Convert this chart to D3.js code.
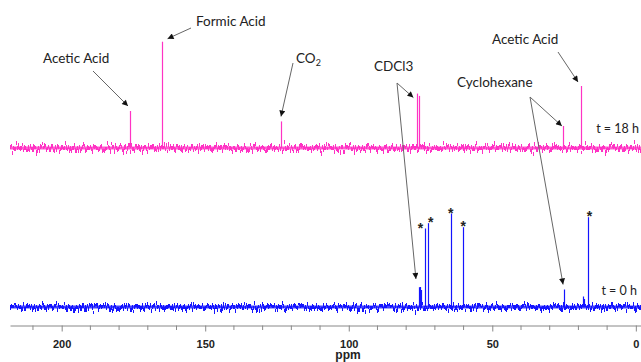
<!DOCTYPE html>
<meta charset="utf-8">
<head>
<style>
  body { margin: 0; background: #fff; }
  .lbl { font-family: Lato, "Open Sans", sans-serif; font-size: 13.5px; fill: #222; }
  .tl { font-family: Lato, "Open Sans", sans-serif; font-size: 12.5px; fill: #222; }
  .star { font-family: "Liberation Sans", Arial, sans-serif; font-size: 14px; font-weight: bold; fill: #222; }
  .axis text { font-family: "Liberation Sans", Arial, sans-serif; font-size: 11px; font-weight: bold; fill: #222; }
  .axis path, .axis line { stroke: #888; }
  .ppm { font-family: "Liberation Sans", Arial, sans-serif; font-size: 12px; font-weight: bold; fill: #222; }
</style>
<script src="https://d3js.org/d3.v7.min.js"></script>
</head>
<body>
<svg width="641" height="362"></svg>
<script>
// tick labels of the ppm axis
var majorTicks = [200, 150, 100, 50, 0];
var minorTicks = [210, 190, 180, 170, 160, 140, 130, 120, 110, 90, 80, 70, 60, 40, 30, 20, 10];

// t = 18 h spectrum (pink): peak shifts and relative heights
var topPpm    = [176.2, 165.2, 123.6, 76.1, 75.7, 25.4, 19.1];
var topHeight = [34.8, 100, 25, 51.2, 49, 20.7, 58.3];

// t = 0 h spectrum (blue)
var botPpm    = [75.6, 75.2, 74.8, 73.3, 72.5, 64.5, 60.3, 25.0, 18.5, 17.9, 16.7];
var botHeight = [19.8, 20, 17, 78.5, 83.8, 93.5, 79.8, 17.5, 10.5, 8, 89.8];

// peaks marked with *
var starPpm = [73.3, 72.5, 64.5, 60.3, 16.7];
var starDx  = [-5, 3, 0, 0.5, 1.5];

var svg = d3.select("svg");

var x = d3.scaleLinear().domain([218, -1.8]).range([10, 641]);
var yTop = d3.scaleLinear().domain([0, 100]).range([148, 41.7]);
var yBot = d3.scaleLinear().domain([0, 100]).range([307, 207]);

// noise look for the baselines
var defs = svg.append("defs");
var f = defs.append("filter").attr("id", "jitter")
    .attr("filterUnits", "userSpaceOnUse")
    .attr("x", 0).attr("y", 0).attr("width", 641).attr("height", 362);
f.append("feTurbulence").attr("type", "fractalNoise")
    .attr("baseFrequency", "0.9 0.03").attr("numOctaves", 2).attr("seed", 4).attr("result", "n");
f.append("feColorMatrix").attr("in", "n").attr("type", "matrix")
    .attr("values", "0 0 0 0 0.5  0 1 0 0 0  0 0 0 0 0  0 0 0 0 1").attr("result", "m");
f.append("feDisplacementMap").attr("in", "SourceGraphic").attr("in2", "m")
    .attr("scale", 16).attr("xChannelSelector", "R").attr("yChannelSelector", "G");

defs.append("marker").attr("id", "arr")
    .attr("viewBox", "0 0 10 10").attr("refX", 10).attr("refY", 5)
    .attr("markerWidth", 7).attr("markerHeight", 6).attr("markerUnits", "userSpaceOnUse")
    .attr("orient", "auto")
  .append("path").attr("d", "M0,0L10,5L0,10z").attr("fill", "#111");

function spectrum(ppm, h, y, color) {
  var g = svg.append("g");
  g.append("line")
      .attr("x1", x.range()[0]).attr("x2", x.range()[1])
      .attr("y1", y(0)).attr("y2", y(0))
      .attr("stroke", color).attr("stroke-width", 4)
      .attr("filter", "url(#jitter)");
  g.append("line")
      .attr("x1", x.range()[0]).attr("x2", x.range()[1])
      .attr("y1", y(0)).attr("y2", y(0))
      .attr("stroke", color).attr("stroke-width", 3).attr("opacity", 0.8);
  g.selectAll(".pk").data(ppm).enter().append("line")
      .attr("class", "pk")
      .attr("x1", function (d) { return Math.round(x(d)) + 0.5; })
      .attr("x2", function (d) { return Math.round(x(d)) + 0.5; })
      .attr("y1", y(0))
      .attr("y2", function (d, i) { return y(h[i]); })
      .attr("stroke", color).attr("stroke-width", 1.2);
}
spectrum(topPpm, topHeight, yTop, "#ff33c4");
spectrum(botPpm, botHeight, yBot, "#1414ff");

// stars
svg.selectAll(".star").data(starPpm).enter().append("text")
    .attr("class", "star")
    .attr("text-anchor", "middle")
    .attr("x", function (d, i) { return x(d) + starDx[i]; })
    .attr("y", function (d) { return yBot(botHeight[botPpm.indexOf(d)]) + 4; })
    .text("*");

// labels
function label(tx, ty, txt) {
  return svg.append("text").attr("class", "lbl").attr("x", tx).attr("y", ty).text(txt);
}
label(43, 63, "Acetic Acid");
label(196, 26, "Formic Acid");
var co = label(296, 63, "CO");
co.append("tspan").attr("font-size", "9px").attr("dy", 3).text("2");
label(374, 71, "CDCl3");
label(457, 87, "Cyclohexane");
label(492, 44, "Acetic Acid");
svg.append("text").attr("class", "tl").attr("text-anchor", "end").attr("x", 639).attr("y", 133).text("t = 18 h");
svg.append("text").attr("class", "tl").attr("text-anchor", "end").attr("x", 637).attr("y", 295).text("t = 0 h");

// arrows: start point, peak it points at, tip offset
function arrow(x0, y0, ppm, hy, dx, dy) {
  svg.append("line")
      .attr("x1", x0).attr("y1", y0)
      .attr("x2", x(ppm) + dx).attr("y2", hy + dy)
      .attr("stroke", "#666").attr("stroke-width", 1)
      .attr("marker-end", "url(#arr)");
}
arrow(93, 71, topPpm[0], yTop(topHeight[0]), -2, -5);
arrow(191, 28, topPpm[1], yTop(topHeight[1]), 6, -3);
arrow(293, 63, topPpm[2], yTop(topHeight[2]), 0, -5);
arrow(397, 83, topPpm[3], yTop(topHeight[3]), -4, 4);
arrow(397, 83, botPpm[1], yBot(botHeight[1]), -4, -8);
arrow(530, 97, topPpm[5], yTop(topHeight[5]), -1, 0);
arrow(530, 97, botPpm[7], yBot(botHeight[7]), -1, -5);
arrow(558, 52, topPpm[6], yTop(topHeight[6]), -3, -4);

// axis
var axisG = svg.append("g").attr("class", "axis").attr("transform", "translate(0,325.5)");
axisG.call(d3.axisBottom(x).tickValues(majorTicks).tickSize(6).tickSizeOuter(0).tickPadding(5));
axisG.selectAll(".minor").data(minorTicks).enter().append("line")
    .attr("class", "minor")
    .attr("x1", function (d) { return x(d); }).attr("x2", function (d) { return x(d); })
    .attr("y1", 0).attr("y2", 4.5);
axisG.selectAll(".tick text").attr("dy", "1em");

svg.append("text").attr("class", "ppm").attr("text-anchor", "middle")
    .attr("x", 348).attr("y", 359).text("ppm");
</script>
</body>
